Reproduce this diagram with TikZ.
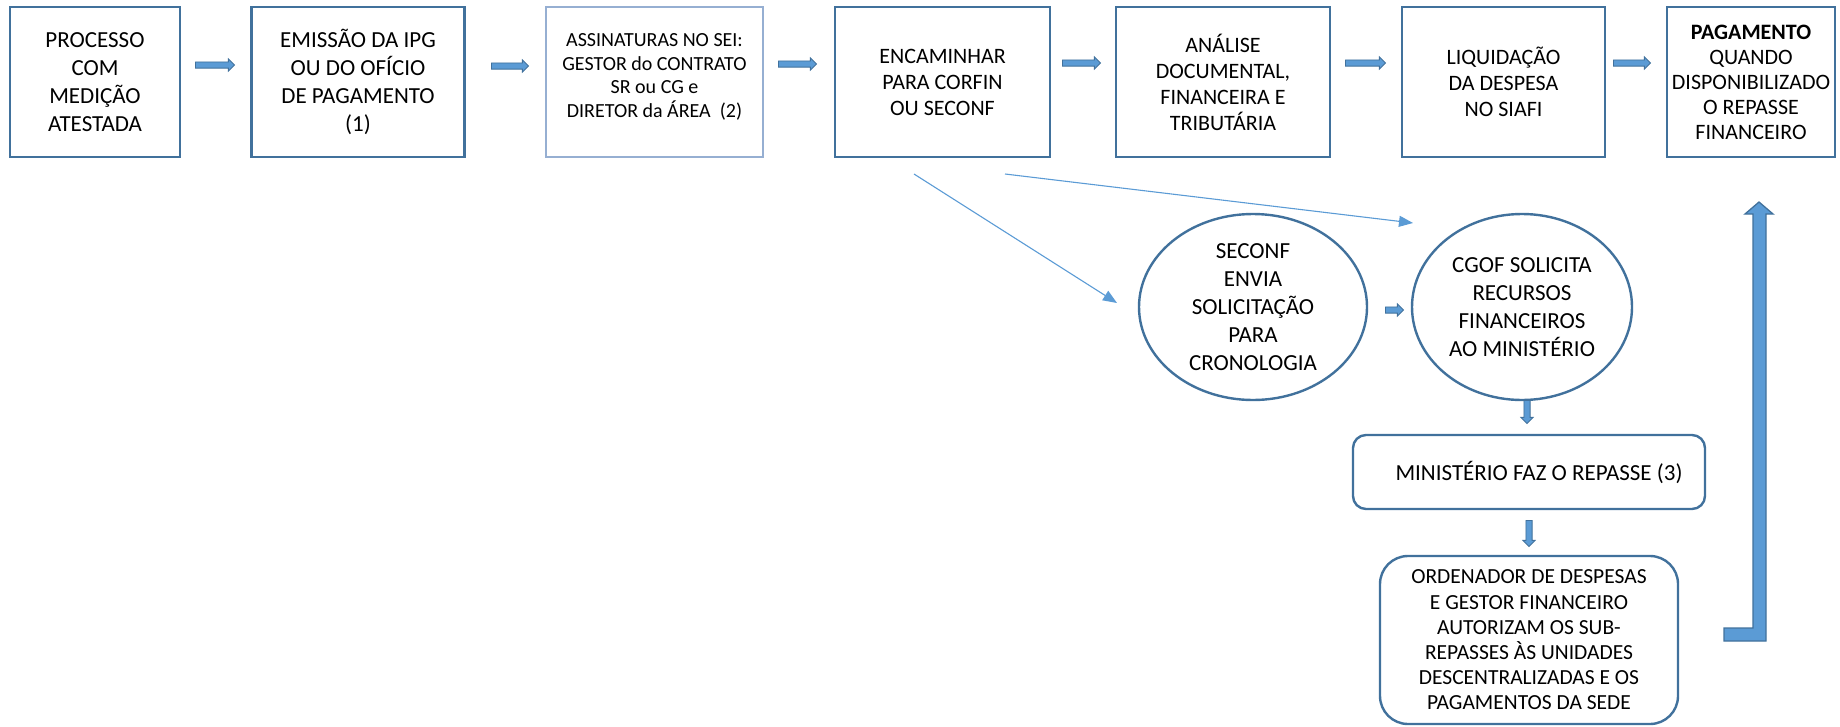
\documentclass[tikz,border=0pt]{standalone}
\usepackage{fontspec}
\setmainfont{Carlito}
\usetikzlibrary{shapes.geometric,shapes.arrows,arrows.meta}
\definecolor{bdr}{RGB}{65,113,156}
\definecolor{afill}{RGB}{91,155,213}
\definecolor{lbdr}{RGB}{150,175,210}
\definecolor{tline}{RGB}{91,155,213}
\begin{document}
\begin{tikzpicture}[x=1pt,y=-1pt,
  pbox/.style={draw=bdr, line width=2.4pt, rectangle, inner sep=0pt, align=center, minimum height=150pt, text=black},
  f23/.style={font=\fontsize{23}{28}\selectfont},
  f22/.style={font=\fontsize{22}{26}\selectfont},
  f20/.style={font=\fontsize{20}{23.5}\selectfont},
  barrow/.style={single arrow, draw=bdr, fill=afill, line width=0.9pt, inner xsep=0pt, inner ysep=2.6pt, single arrow head extend=3pt, single arrow head indent=0pt, minimum height=#1, anchor=tail},
  ell/.style={ellipse, draw=bdr, line width=2.4pt, inner sep=0pt},
  ellt/.style={align=center, inner sep=0pt, font=\fontsize{23}{28}\selectfont},
  rbox/.style={rectangle, rounded corners=#1, draw=bdr, line width=2.4pt, inner sep=0pt, align=center},
  tarrow/.style={draw=tline, line width=1.1pt, -{Triangle[length=14pt,width=11pt]}},
]
\useasboundingbox (0,0) rectangle (1840,726);

% top row
\node[pbox, f23, minimum width=170pt] (b1) at (95,82) {PROCESSO\\COM\\MEDIÇÃO\\ATESTADA};
\node[pbox, f23, minimum width=213pt] (b2) at (358,82) {EMISSÃO DA IPG\\OU DO OFÍCIO\\DE PAGAMENTO\\(1)};
\node[pbox, draw=lbdr, line width=1.6pt, minimum width=217pt] (b3) at (654.5,82) {};
\node[f20, align=center] (b3t) at (654.5,77) {ASSINATURAS NO SEI:\\GESTOR do CONTRATO\\SR ou CG e\\DIRETOR da ÁREA\ \ (2)};
\node[pbox, f22, minimum width=215pt] (b4) at (942.5,82) {ENCAMINHAR\\PARA CORFIN\\OU SECONF};
\node[pbox, f22, minimum width=214pt] (b5) at (1223,82) {ANÁLISE\\DOCUMENTAL,\\FINANCEIRA E\\TRIBUTÁRIA};
\node[pbox, f22, minimum width=203pt] (b6) at (1503.5,82) {LIQUIDAÇÃO\\DA DESPESA\\NO SIAFI};
\node[pbox, font=\fontsize{22}{25}\selectfont, minimum width=168pt] (b7) at (1751,82) {\textbf{PAGAMENTO}\\QUANDO\\DISPONIBILIZADO\\O REPASSE\\FINANCEIRO};

% block arrows
\node[barrow=39pt] (a1) at (195,65) {};
\node[barrow=37pt] (a2) at (491,66) {};
\node[barrow=38pt] (a3) at (778,64) {};
\node[barrow=38pt] (a4) at (1062,63) {};
\node[barrow=40pt] (a5) at (1345,63) {};
\node[barrow=37pt] (a6) at (1613,63) {};

% ellipses
\node[ell, minimum width=228pt, minimum height=186pt,
  label={[ellt]center:{SECONF\\ENVIA\\SOLICITAÇÃO\\PARA\\CRONOLOGIA}}] (e1) at (1253,307) {};
\node[ell, minimum width=220pt, minimum height=186pt,
  label={[ellt]center:{CGOF SOLICITA\\RECURSOS\\FINANCEIROS\\AO MINISTÉRIO}}] (e2) at (1522,307) {};
\node[barrow=18pt] (a7) at (1385,310) {};

% thin arrows from ENCAMINHAR
\coordinate (s1) at (914,174);
\coordinate (t1) at (1117,303);
\coordinate (s2) at (1005,174);
\coordinate (t2) at (1413,223);
\draw[tarrow] (s1) -- (t1);
\draw[tarrow] (s2) -- (t2);

% lower boxes
\node[barrow=23pt, rotate=-90] (d1) at (1527,400) {};
\node[rbox=13pt, minimum width=352pt, minimum height=74pt, font=\fontsize{23}{28}\selectfont] (m) at (1529,472) {\hspace*{20pt}MINISTÉRIO FAZ O REPASSE (3)};
\node[barrow=26pt, rotate=-90] (d2) at (1529,520) {};
\node[rbox=28pt, minimum width=298pt, minimum height=168pt, font=\fontsize{21.5}{25.2}\selectfont] (o) at (1529,640) {ORDENADOR DE DESPESAS\\E GESTOR FINANCEIRO\\AUTORIZAM OS SUB-\\REPASSES ÀS UNIDADES\\DESCENTRALIZADAS E OS\\PAGAMENTOS DA SEDE};

% big L arrow
\draw[draw=bdr, fill=afill, line width=1.3pt] (1724,628) -- (1753,628) -- (1753,214) -- (1745,214) -- (1759,202) -- (1773,214) -- (1766,214) -- (1766,641) -- (1724,641) -- cycle;
\end{tikzpicture}
\end{document}
